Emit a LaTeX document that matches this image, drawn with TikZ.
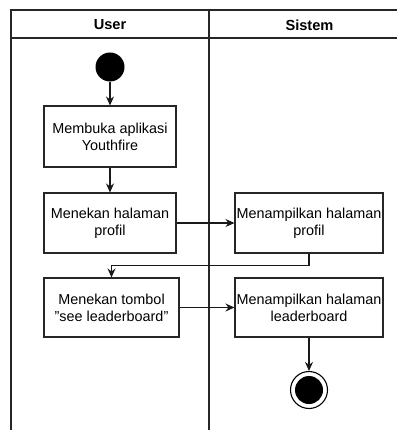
\documentclass[tikz,border=0pt]{standalone}
\usepackage{fontspec}
\setmainfont{Liberation Sans}
\usetikzlibrary{arrows.meta}
\begin{document}
\begin{tikzpicture}[x=1pt,y=-1pt,
  lane/.style={draw=black!85, line width=1.1pt},
  act/.style={draw=black!85, line width=1.1pt, rectangle, align=center, inner sep=0pt,
    font=\fontsize{14.4}{17}\selectfont},
  hdr/.style={font=\fontsize{14.6}{17}\selectfont\bfseries},
  flow/.style={draw=black!90, line width=1.1pt, -{Stealth[length=9pt,width=8pt]}}]
\useasboundingbox (0,0) rectangle (397,430);
% swimlanes
\draw[lane] (11,430) -- (11,10) -- (397,10);
\draw[lane] (11,38) -- (397,38);
\draw[lane] (209,10) -- (209,430);
\node[hdr] (hu) at (110,25) {User};
\node[hdr] (hs) at (309.5,25) {Sistem};
% nodes
\node[circle, fill=black, minimum size=29pt, inner sep=0pt] (start) at (110,67) {};
\node[act, minimum width=132pt, minimum height=61pt] (b1) at (110,136.5) {Membuka aplikasi\\Youthfire};
\node[act, minimum width=132pt, minimum height=60pt] (b2) at (110,223) {Menekan halaman\\profil};
\node[act, minimum width=148pt, minimum height=60pt] (b3) at (309,223) {Menampilkan halaman\\profil};
\node[act, minimum width=135pt, minimum height=59pt] (b4) at (111.5,307.5) {Menekan tombol\\\symbol{34}see leaderboard\symbol{34}};
\node[act, minimum width=148pt, minimum height=59pt] (b5) at (309,307.5) {Menampilkan halaman\\leaderboard};
\node[circle, draw=black, line width=1.1pt, minimum size=37pt, inner sep=0pt] (end) at (309,390) {};
\node[circle, fill=black, minimum size=28pt, inner sep=0pt] (endin) at (309,390) {};
% connectors
\draw[flow] (start) -- (b1);
\draw[flow] (b1) -- (b2);
\draw[flow] (b2) -- (b3);
\coordinate (k1) at (309,265.5);
\coordinate (k2) at (111.5,265.5);
\draw[flow] (b3.south) -- (k1) -- (k2) -- (b4.north);
\draw[flow] (b4) -- (b5);
\draw[flow] (b5) -- (end);
\end{tikzpicture}
\end{document}
